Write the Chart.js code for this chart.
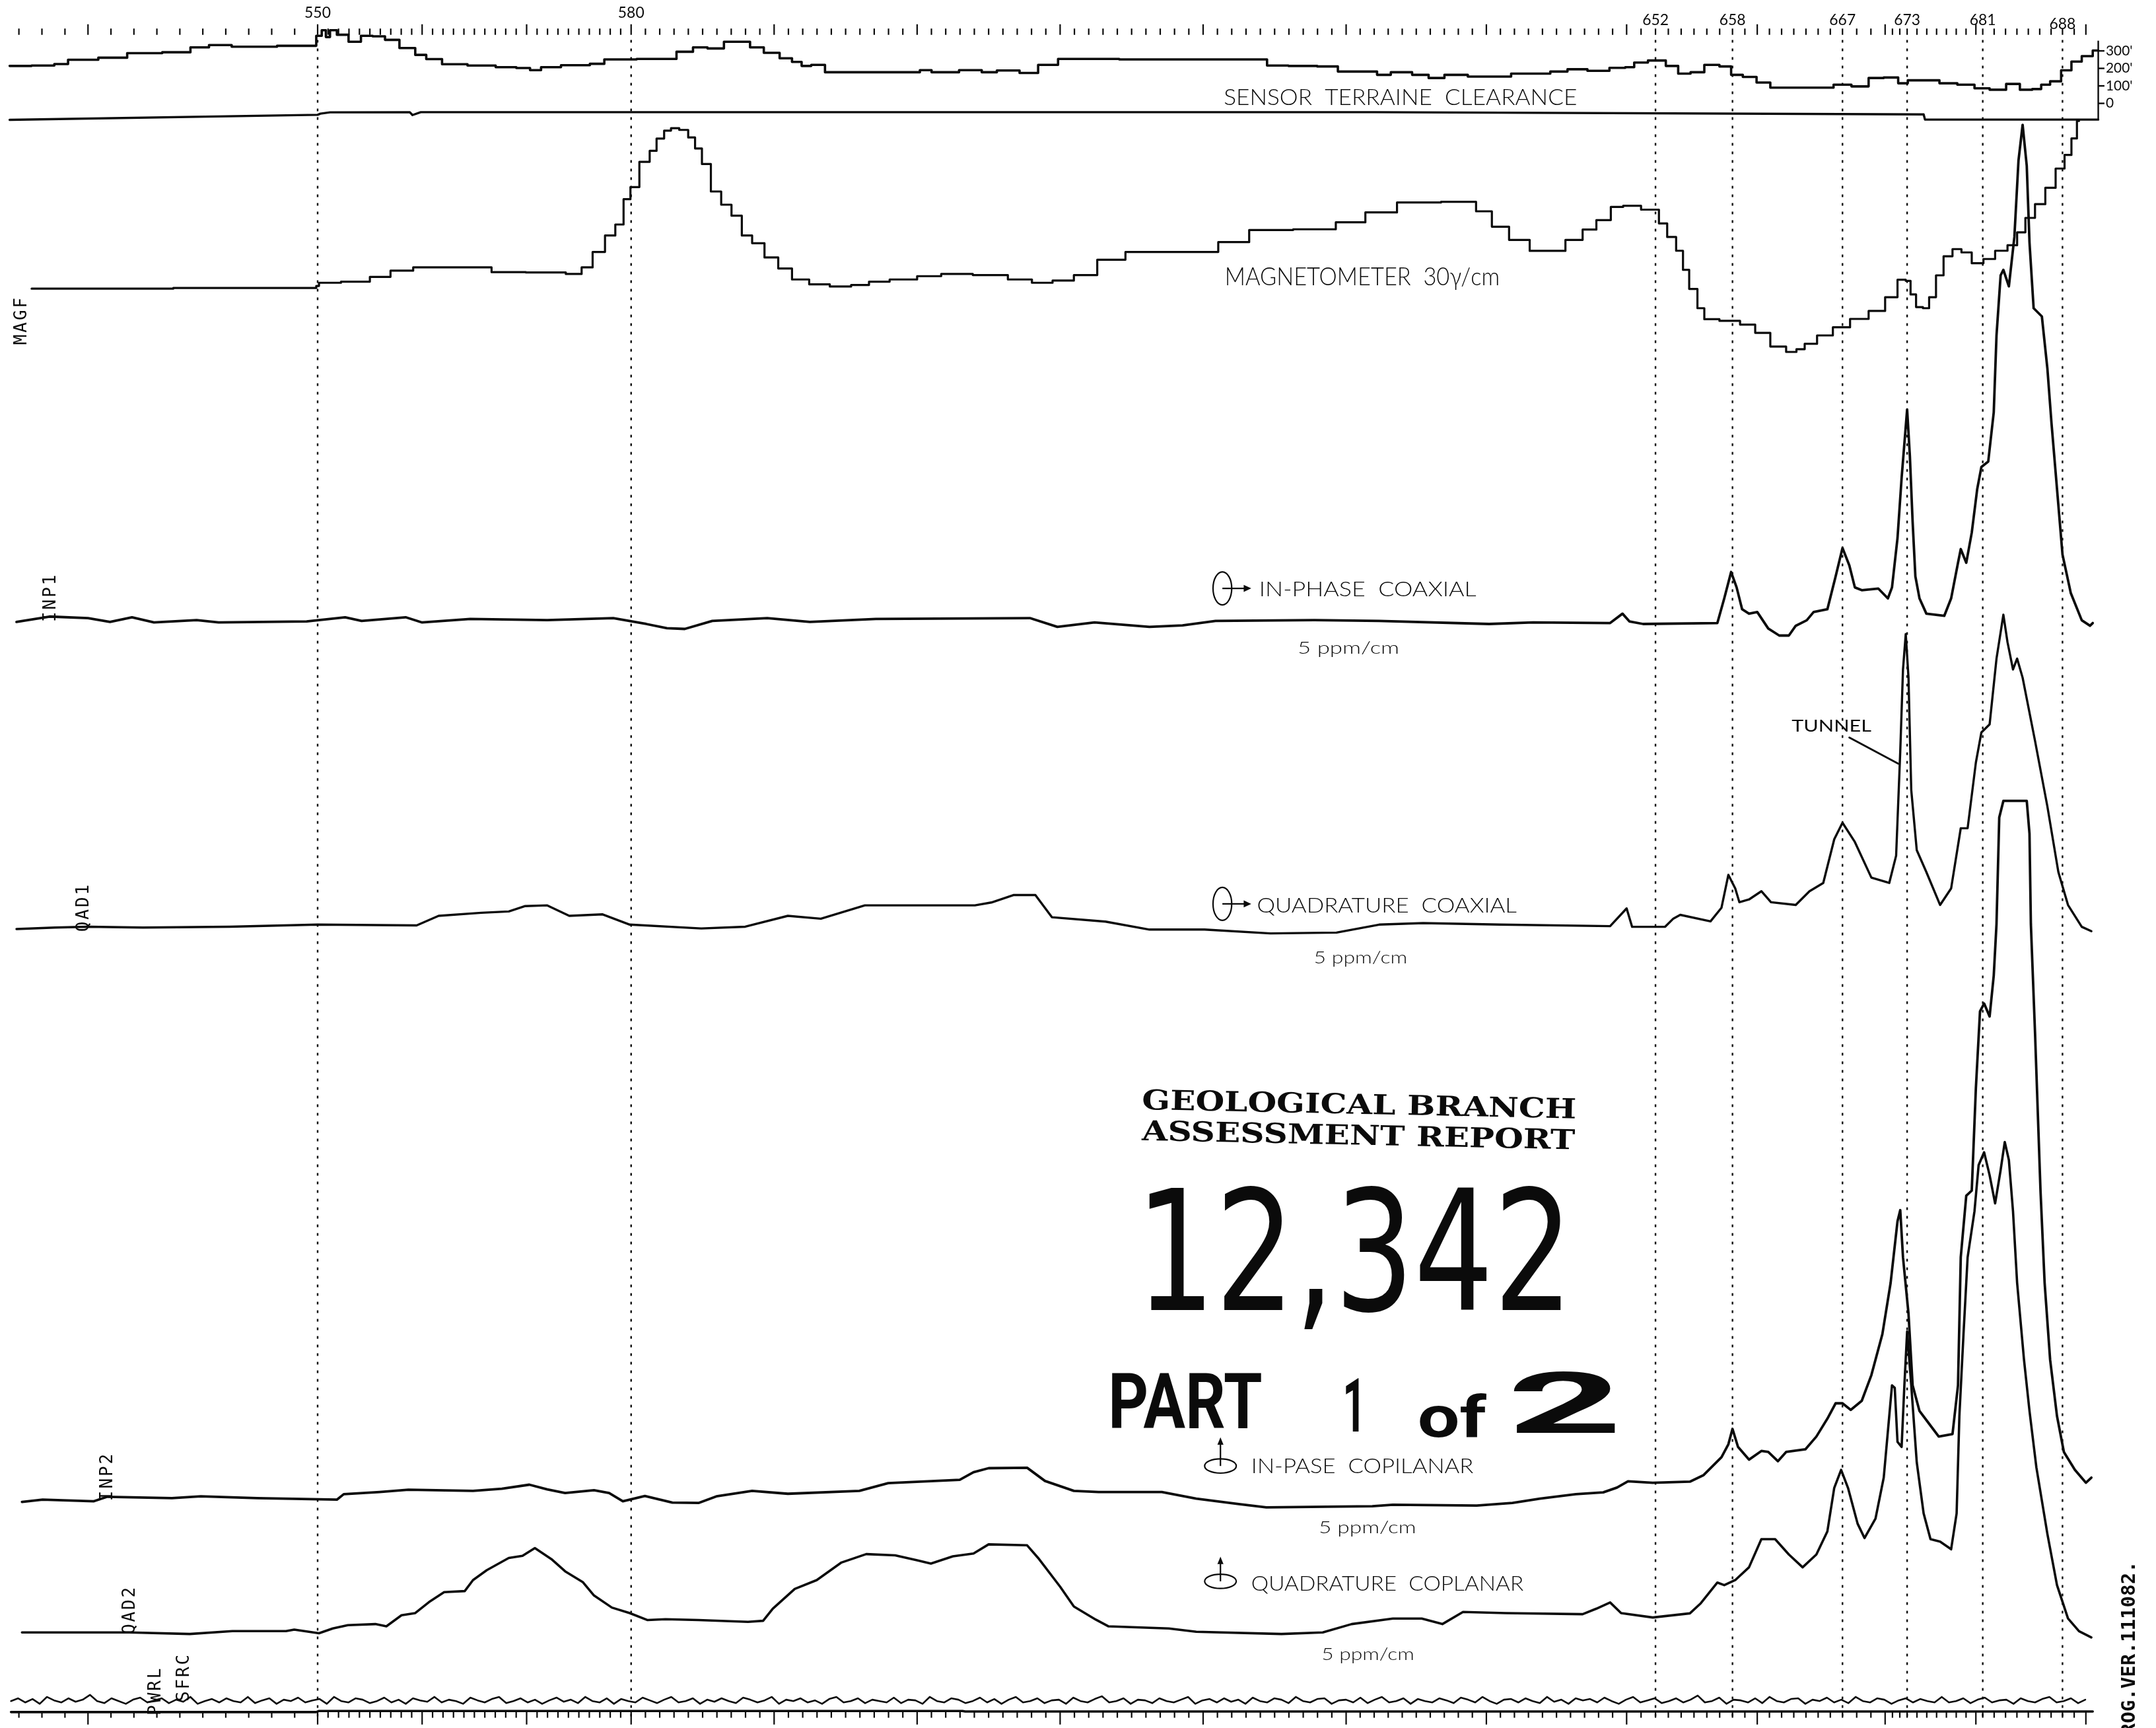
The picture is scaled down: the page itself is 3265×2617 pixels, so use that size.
<!DOCTYPE html>
<html>
<head>
<meta charset="utf-8">
<title>Airborne EM / Magnetometer profile</title>
<script src="https://cdn.jsdelivr.net/npm/chart.js@4.4.1/dist/chart.umd.min.js"></script>
<style>
    html, body { margin: 0; padding: 0; background: #fff; }
    canvas { display: block; }
</style>
</head>
<body>
<canvas id="profile" width="3265" height="2617"></canvas>
<script>
'use strict';

// =========================================================
// PROFILE DATA
// Distances are along the flight line in chart units
// (0 = left edge of the sheet, 1568 = right edge).
// Trace values are deflections above the trace baseline,
// except terrain clearance which is in feet.
// =========================================================

// ---- fiducial axis ----
const fiducialAnchors = [536, 540, 550, 580, 590, 630, 650, 652, 658, 660, 667, 670, 673, 680, 681, 688, 690];
const fiducialAnchorDist = [-3, 64, 231, 459, 563, 979, 1183, 1204, 1260, 1278, 1340, 1371, 1387, 1437, 1442, 1500, 1517];
const labelledFiducials = [550, 580, 652, 658, 667, 673, 681, 688];

// ---- sensor terrain clearance (feet) ----
const clearanceTicks = [0, 100, 200, 300];
const clearanceDist = [7, 39, 40, 59, 84, 101, 135, 142, 162, 175, 228, 232, 236, 238, 242, 248, 259, 266, 276, 284, 297, 307, 313, 330, 350, 371, 380, 391, 396, 420, 438, 441, 485, 499, 509, 520, 533, 542, 549, 562, 572, 580, 586, 594, 606, 666, 672, 683, 712, 716, 734, 749, 761, 778, 850, 919, 924, 950, 966, 980, 1000, 1003, 1020, 1034, 1044, 1057, 1078, 1120, 1135, 1145, 1164, 1177, 1187, 1190, 1207, 1216, 1225, 1234, 1245, 1256, 1262, 1273, 1282, 1293, 1327, 1340, 1353, 1365, 1375, 1386, 1389, 1406, 1415, 1432, 1440, 1454, 1464, 1474, 1482, 1487, 1495, 1503, 1510, 1518, 1526];
const clearanceFeet = [214, 216, 225, 249, 261, 287, 292, 320, 333, 324, 329, 386, 418, 379, 418, 392, 352, 386, 383, 363, 316, 277, 253, 224, 216, 207, 202, 190, 207, 218, 226, 251, 254, 295, 320, 314, 352, 352, 320, 289, 258, 237, 214, 220, 178, 178, 190, 178, 190, 178, 188, 174, 220, 254, 251, 251, 216, 214, 211, 182, 182, 163, 178, 163, 145, 163, 153, 170, 182, 195, 186, 203, 207, 233, 245, 214, 170, 178, 220, 211, 163, 151, 119, 90, 90, 107, 97, 145, 148, 115, 132, 132, 115, 107, 86, 78, 111, 78, 82, 107, 126, 189, 239, 270, 302];

// ---- reference line under the clearance trace ----
const refDist = [7, 231, 233, 240, 298, 300, 306, 1000, 1399, 1400, 1526];
const refValues = [0, 3.7, 4.5, 5.5, 5.6, 3.5, 5.6, 5.6, 4, 0.2, 0.2];

// ---- magnetometer (MAGF) ----
const magDist = [23, 229, 231, 233, 263, 275, 293, 308, 354, 361, 404, 419, 427, 435, 445, 450, 457, 460, 470, 475, 480, 486, 490, 498, 503, 508, 513, 521, 528, 536, 543, 551, 561, 571, 581, 596, 611, 627, 637, 657, 677, 692, 723, 743, 758, 773, 789, 807, 830, 876, 896, 921, 960, 983, 1003, 1029, 1067, 1080, 1090, 1105, 1120, 1131, 1146, 1156, 1166, 1177, 1184, 1203, 1210, 1215, 1223, 1225, 1232, 1237, 1242, 1259, 1272, 1281, 1294, 1304, 1309, 1316, 1327, 1339, 1352, 1366, 1376, 1384, 1388, 1391, 1396, 1401, 1405, 1411, 1416, 1424, 1429, 1439, 1446, 1456, 1464, 1470, 1476, 1484, 1491, 1499, 1504, 1509, 1512];
const magValues = [2, 2.5, 4, 6.3, 7.1, 10.6, 15.1, 17.5, 17.5, 14, 13.8, 12.7, 17.5, 28.7, 40.7, 48.7, 67.1, 75.9, 94.3, 102.3, 111.2, 117, 118.8, 117.5, 112, 104, 92.7, 72.7, 63.1, 55.1, 40.7, 35.1, 24.7, 16.7, 8.7, 5.2, 3.6, 4.7, 7.1, 8.7, 11.1, 12.7, 11.9, 8.7, 6.3, 7.9, 11.9, 23.1, 28.7, 28.7, 35.9, 44.7, 45.2, 50.3, 57.5, 64.7, 65.2, 58.3, 47.1, 37.5, 29.5, 29.5, 37.5, 45, 51.9, 61.5, 62.3, 59.5, 49.5, 39.6, 29.6, 15.7, 1.8, -12.2, -20.2, -21.4, -24.1, -30.1, -40.1, -44, -42, -38.1, -32, -26.1, -20, -14.2, -4.2, 8.5, 7.7, -2.2, -11.4, -12.2, -4.2, 11.7, 25.6, 30.8, 28.4, 20.5, 23.6, 29.6, 33.6, 43, 53.5, 63.5, 75.4, 89.4, 99.3, 111.3, 124];

// ---- in-phase coaxial (INP1) ----
const inp1Dist = [12, 36, 64, 80, 96, 112, 143, 159, 223, 251, 263, 295, 307, 342, 398, 446, 470, 485, 498, 518, 558, 589, 637, 749, 769, 796, 836, 860, 884, 956, 1003, 1083, 1115, 1171, 1180, 1185, 1195, 1249, 1254, 1259, 1263, 1267, 1272, 1278, 1286, 1294, 1301, 1306, 1314, 1319, 1329, 1335, 1340, 1345, 1349, 1354, 1366, 1373, 1376, 1380, 1383, 1387, 1389, 1391, 1393, 1396, 1401, 1414, 1419, 1424, 1426, 1430, 1434, 1438, 1441, 1446, 1450, 1452, 1455, 1457, 1461, 1465, 1468, 1471, 1474, 1476, 1479, 1485, 1489, 1492, 1496, 1500, 1506, 1514, 1520, 1522];
const inp1Values = [-0.4, 3.5, 2.4, -0.4, 3, -0.8, 0.9, -0.8, 0, 3, 0.3, 3, -0.8, 1.8, 0.9, 2.4, -1.9, -5, -5.5, 0.3, 2.4, -0.4, 1.8, 2.4, -4, -0.8, -4, -2.9, 0.3, 0.9, 0.3, -1.9, -0.8, -1.2, 5.6, 0, -1.9, -1.2, 16.7, 35.9, 24.7, 8.8, 5.6, 6.8, -5.2, -10.3, -10.3, -3.2, 0.8, 6.8, 8.8, 32.7, 53.4, 40.6, 24.7, 22.7, 23.9, 16.7, 24.7, 60.5, 104.4, 154.1, 120.3, 72.5, 32.7, 16.7, 5.6, 4, 16.7, 42.6, 52.6, 42.6, 64.5, 96.4, 112.3, 116.3, 152.1, 207.9, 251.7, 255.7, 243.7, 279.6, 335.3, 361.2, 331.4, 275.6, 227.8, 221.8, 184, 144.2, 96.4, 48.6, 20.7, 0.8, -3.2, -1.2];

// ---- quadrature coaxial (QAD1) ----
const qad1Dist = [12, 40, 64, 104, 167, 231, 303, 319, 350, 370, 382, 398, 414, 438, 458, 510, 542, 573, 597, 629, 709, 721, 737, 753, 765, 804, 836, 876, 924, 972, 1003, 1035, 1091, 1171, 1183, 1187, 1211, 1217, 1222, 1244, 1252, 1257, 1262, 1265, 1272, 1281, 1288, 1306, 1316, 1326, 1334, 1340, 1349, 1361, 1374, 1379, 1382, 1384, 1386, 1388, 1390, 1394, 1401, 1411, 1419, 1426, 1431, 1437, 1441, 1447, 1452, 1457, 1460, 1464, 1467, 1471, 1480, 1489, 1497, 1504, 1514, 1521];
const qad1Values = [-0.8, 0.3, 0.9, 0.3, 0.9, 2.4, 1.8, 8.8, 11, 12, 15.9, 16.4, 8.8, 9.9, 2.4, -0.4, 0.9, 8.8, 6.7, 16.4, 16.4, 18.5, 23.9, 23.9, 7.8, 4.6, -1.2, -1.2, -4, -3.4, 2.4, 3.5, 2.4, 1.3, 14.2, 0.8, 0.9, 6.8, 9.5, 4.8, 14.7, 38.6, 28.7, 18.7, 20.7, 26.7, 18.7, 16.7, 26.7, 32.7, 64.5, 76.5, 62.5, 36.6, 32.7, 52.6, 128.2, 188, 213.8, 182, 100.4, 56.6, 40.6, 16.7, 28.7, 72.5, 72.5, 120.3, 142.2, 148.1, 195.9, 227.8, 207.9, 188, 195.9, 182, 136.2, 88.4, 40.6, 16.7, 0.8, -2.4];

// ---- in-phase coplanar (INP2), clipped at the top of its channel ----
const inp2Dist = [16, 31, 68, 78, 125, 146, 187, 245, 250, 276, 297, 344, 365, 385, 398, 411, 432, 443, 453, 469, 489, 508, 521, 547, 573, 625, 646, 698, 708, 719, 747, 760, 781, 799, 845, 870, 901, 921, 998, 1013, 1074, 1100, 1120, 1146, 1166, 1176, 1184, 1202, 1229, 1239, 1252, 1257, 1260, 1264, 1272, 1281, 1286, 1293, 1299, 1313, 1321, 1329, 1335, 1340, 1346, 1354, 1361, 1369, 1375, 1380, 1382, 1384, 1388, 1391, 1396, 1403, 1410, 1420, 1424, 1426, 1430, 1434, 1437, 1440, 1443, 1447, 1450, 1452, 1454, 1457, 1474, 1476, 1477, 1480, 1484, 1487, 1491, 1496, 1501, 1509, 1517, 1521];
const inp2Values = [-1.5, 0.1, -1.1, 2.2, 1.2, 2.5, 1.2, 0.1, 4.1, 5.7, 7.3, 6.5, 8.1, 11, 7.6, 4.9, 7, 4.9, -1.1, 2.8, -2, -2.3, 2.5, 6.5, 4.4, 6.5, 12.1, 14.5, 20.1, 23, 23.3, 13.7, 6.5, 5.7, 5.7, 0.9, -3.1, -5.5, -4.7, -3.6, -4.2, -2.3, 0.9, 4.1, 5.4, 8.9, 13.5, 12.4, 13.2, 18, 31, 40.4, 51.6, 38.5, 29.2, 35.5, 34.8, 28.1, 34.8, 36.7, 46, 59, 70.2, 70.2, 65.4, 72, 90.7, 120.5, 157.8, 202.5, 210.7, 176.4, 135.4, 83.3, 64.6, 55.3, 46, 47.8, 83.3, 176.4, 221.2, 224.9, 299.4, 355.3, 361, 351.6, 381.4, 418.7, 496.4, 508.4, 508.4, 484.5, 418.7, 340.4, 224.9, 157.8, 101.9, 60.9, 34.8, 21.8, 12.4, 16.1];

// ---- quadrature coplanar (QAD2) ----
const qad2Dist = [16, 94, 138, 169, 208, 214, 232, 242, 253, 273, 281, 292, 302, 312, 323, 338, 344, 354, 370, 380, 389, 401, 411, 424, 432, 445, 458, 471, 484, 508, 544, 555, 562, 578, 594, 612, 630, 651, 667, 677, 693, 708, 719, 747, 755, 771, 781, 797, 806, 850, 870, 932, 962, 983, 1013, 1034, 1049, 1064, 1095, 1151, 1161, 1171, 1179, 1202, 1229, 1237, 1249, 1254, 1262, 1272, 1281, 1291, 1301, 1311, 1321, 1329, 1334, 1339, 1344, 1351, 1356, 1364, 1370, 1376, 1378, 1380, 1383, 1385, 1387, 1390, 1394, 1399, 1404, 1411, 1419, 1423, 1425, 1428, 1431, 1436, 1439, 1443, 1447, 1451, 1455, 1458, 1461, 1464, 1467, 1472, 1476, 1481, 1489, 1496, 1504, 1512, 1521];
const qad2Values = [0.5, 0.5, -0.6, 1.5, 1.5, 2.6, -0.1, 3.4, 5.8, 6.6, 5, 13, 14.6, 22.6, 29.8, 30.6, 38.6, 45.8, 54.7, 56.2, 61.9, 53.9, 45, 37, 27.4, 18.6, 14.6, 9.5, 10.1, 9.5, 8.2, 9, 17.8, 32.2, 38.6, 51.4, 57.5, 56.6, 53, 50.6, 55.9, 57.9, 64.6, 63.9, 54.7, 33.8, 19.4, 9.8, 5, 3.4, 1, -0.6, 0.5, 6.6, 10.6, 10.6, 6.6, 15.4, 14.6, 13.8, 17.8, 22.3, 14.6, 11.4, 14.4, 21.8, 36.8, 34.9, 38.6, 47.9, 68.4, 68.4, 57.2, 47.9, 57.2, 74, 105.7, 118.7, 105.7, 79.6, 69.2, 83.3, 113.2, 180.3, 178.4, 139.2, 135.5, 180.3, 219.4, 180.3, 124.3, 87.1, 68.4, 66.6, 61, 87.1, 157.9, 217.5, 273.4, 307, 340.5, 349.8, 333.1, 312.6, 336.8, 357.3, 344.2, 307, 254.8, 198.9, 161.6, 120.6, 72.2, 34.9, 10.7, 1.4, -3.1];

// ---- power line monitor (PWRL), read as a ragged noise band ----
const pwrlValues = [
    0, 2, -1, 1.5, -2, 3, 0.5, -1, 2, -0.5,
    1, 4.5, 0, -1.5, 2, 0, -2, 1, 2.5, -1,
    0.5, 2, -1.5, 1, -0.5, 3, -2, 0, 1.5, -1,
    2, 0, -1, 3, -1.5, 0.5, 2, -2, 1, 0,
    2.5, -1, 0.5, 1.5, -2, 3, 0, -1, 2, 1,
    -1.5, 0, 2.5, -1, 1, -2, 2, 0.5, -0.5, 3,
    -1, 1, 0, -2, 2.5, 0.5, -1, 1.5, 3, -1.5,
    0, 2, -1, 1, -2, 0.5, 2.5, -0.5, 1, -1.5,
    3, 0, -1, 2, -2, 1.5, 0, -1, 2.5, 0.5,
    -1.5, 1, 3, -1, 0, 2, -2, 1, -0.5, 2,
    0, -1.5, 2.5, 1, -1, 0.5, 3, -2, 1, 0,
    2, -1, 0.5, -2, 1.5, 3, -1, 0, 2, -1.5,
    1, 0, -1, 2.5, -1.5, 1, 0.5, -2, 3, 0,
    -1, 2, 1, -1.5, 0, 2.5, -1, 1.5, -2, 1,
    3, -1, 0, 2, -1.5, 0.5, 1, -2, 2.5, 0,
    -1, 1.5, 3.5, -1, 0, 2, -2, 1, 0.5, -1.5,
    2, 0, -1, 1, 3, -2, 0.5, 1.5, -1, 2,
    -0.5, 1, -2, 2.5, 0, -1, 2, 1, -1.5, 3,
    0, -1, 1.5, 2, -2, 0.5, 1, -1, 2.5, -1.5,
    1, 3, -1, 0, 2, -2, 1.5, 0, -1, 2,
    0.5, -1.5, 2.5, 1, -1, 3, 0, -2, 1, 1.5,
    -1, 2, 0, -1.5, 3, -0.5, 1, -2, 2, 0.5,
    1.5, -1, 2.5, 0, -2, 1, 3, -1, 0.5, 2,
    -1.5, 0, 2, -1, 1, 4, -1, 0, 2.5, -2,
    1, 0.5, -1, 2, -1.5, 3, 0, -1, 1.5, 2,
    -2, 1, 0, 2.5, -1, 1, -1.5, 3, 0, -1,
    2, 1, -2, 0.5, 2, -1, 1.5, 0, -1, 3,
    -1, 0, 2, -1.5, 1, 2.5, -1, 0.5, 1, -2,
    2, 0, -1, 1.5, 3, -1, 0, 2, -1.5, 1,
];

// ---- spherics monitor (SFRC) ----
const sfrcDist = [8, 230, 232, 700, 702, 1200, 1522];
const sfrcValues = [0, 0, 0.8, 0.8, 0.4, 0.4, 0.4];


// =========================================================
// LAYOUT (chart units, 1568 x 1257 across the sheet)
// =========================================================

const CHART_W = 1568;
const CHART_H = 1257;
const INK = '#0b0b0b';

const baselines = {
    ref: 87.2,
    mag: 212,
    inp1: 452,
    qad1: 675,
    inp2: 1091,
    qad2: 1188,
    pwrl: 1237.4,
    sfrc: 1245.4,
};

const pwrlStart = 8;
const pwrlSpacing = 5.22;

const CLEARANCE_ZERO = 75.2;          // chart units at 0 ft
const CLEARANCE_UNITS_PER_FT = 0.1273;
const CLEARANCE_AXIS_X = 1526;

const grid = {
    dottedTop: 29,
    dottedBottom: 1250,
    topTickBottom: 25.3,
    topMinorTop: 20.8,
    topMajorTop: 17.6,
    bottomLine: 1245.4,
    bottomMinor: 1249.6,
    bottomMajor: 1254.5,
};

const fiducialLabelY = [9.5, 9.5, 14.5, 14.5, 14.5, 14.5, 14.5, 17.5];

const captionFont = 'Lato, "DejaVu Sans", sans-serif';

const captions = [
    { text: 'SENSOR  TERRAINE  CLEARANCE', x: 1018.5, y: 70.5, size: 16.5, width: 257, weight: '300' },
    { text: 'MAGNETOMETER  30γ/cm', x: 990.7, y: 201, size: 17.5, width: 200, weight: '300' },
    { text: 'IN-PHASE  COAXIAL', x: 994.7, y: 428, size: 15.5, width: 158, weight: '300' },
    { text: '5 ppm/cm', x: 980.7, y: 471, size: 12.5, width: 74, weight: '300' },
    { text: 'QUADRATURE  COAXIAL', x: 1008.6, y: 658, size: 15.5, width: 189, weight: '300' },
    { text: '5 ppm/cm', x: 989.5, y: 696.5, size: 12.5, width: 68, weight: '300' },
    { text: 'IN-PASE  COPILANAR', x: 990.8, y: 1066, size: 15.5, width: 161.6, weight: '300' },
    { text: '5 ppm/cm', x: 994.5, y: 1111, size: 12.5, width: 71, weight: '300' },
    { text: 'QUADRATURE  COPLANAR', x: 1009, y: 1151.6, size: 15.5, width: 198, weight: '300' },
    { text: '5 ppm/cm', x: 994.8, y: 1203, size: 12.5, width: 67.5, weight: '300' },
    { text: 'TUNNEL', x: 1332, y: 528, size: 12, width: 58, weight: '400' },
];

const stampLines = [
    { text: 'GEOLOGICAL BRANCH', x: 988.5, y: 803, size: 20, width: 316 },
    { text: 'ASSESSMENT REPORT', x: 988, y: 825.5, size: 20, width: 315 },
];

const reportNumber = { text: '12,342', x: 985, y: 909, size: 122, width: 318, weight: '400' };

const handwriting = [
    { text: 'PART', x: 862, y: 1019, size: 56, width: 112, weight: 'bold' },
    { text: '1', x: 985, y: 1022, size: 54, width: 17, weight: 'bold' },
    { text: 'of', x: 1056, y: 1030, size: 42, width: 50, weight: 'bold' },
    { text: '2', x: 1138, y: 1020, size: 62, width: 84, weight: 'bold' },
];

const traceTags = [
    { text: 'MAGF', x: 14.5, y: 233 },
    { text: 'INP1', x: 35.8, y: 434.6 },
    { text: 'QAD1', x: 59.7, y: 660 },
    { text: 'INP2', x: 77, y: 1074 },
    { text: 'QAD2', x: 93.7, y: 1171 },
    { text: 'PWRL', x: 112, y: 1230 },
    { text: 'SFRC', x: 132.8, y: 1220 },
];

const coaxialSymbols = [{ x: 889, y: 428 }, { x: 889, y: 657.5 }];
const coplanarSymbols = [{ x: 887.6, y: 1066.4, top: 1045.5 }, { x: 887.6, y: 1150.3, top: 1132.3 }];
const tunnelLeader = { from: { x: 1345, y: 536.5 }, to: { x: 1380.5, y: 555.5 } };


// =========================================================
// HELPERS
// =========================================================

const fiducialToDist = (fid) => {
    for (let i = 1; i < fiducialAnchors.length; i++) {
        if (fid <= fiducialAnchors[i]) {
            const f0 = fiducialAnchors[i - 1];
            const f1 = fiducialAnchors[i];
            const d0 = fiducialAnchorDist[i - 1];
            const d1 = fiducialAnchorDist[i];
            return d0 + ((fid - f0) / (f1 - f0)) * (d1 - d0);
        }
    }
    return fiducialAnchorDist[fiducialAnchorDist.length - 1];
};

const toPoints = (dist, values, base) => dist.map((d, i) => ({ x: d, y: base - values[i] }));

const unitPx = (chart) => {
    const xScale = chart.scales.x;
    return (xScale.getPixelForValue(CHART_W) - xScale.getPixelForValue(0)) / CHART_W;
};

// draws text centred on (x, y) in chart units, stretched to a width if given
const drawText = (chart, item, family) => {
    const { ctx, scales: { x, y } } = chart;
    const k = unitPx(chart);

    ctx.save();
    ctx.font = `${item.weight || 'normal'} ${item.size * k}px ${family}`;
    ctx.textAlign = 'center';
    ctx.textBaseline = 'alphabetic';
    ctx.translate(x.getPixelForValue(item.x), y.getPixelForValue(item.y));

    if (item.angle) ctx.rotate((item.angle * Math.PI) / 180);

    if (item.width) {
        const measured = ctx.measureText(item.text).width;
        ctx.scale((item.width * k) / measured, 1);
    }

    ctx.fillText(item.text, 0, item.size * k * 0.36);
    ctx.restore();
};


// =========================================================
// PLUGINS
// =========================================================

const fiducialPlugin = {
    id: 'fiducialGrid',
    beforeDatasetsDraw(chart) {
        const { ctx, scales: { x, y, yClr } } = chart;
        const k = unitPx(chart);
        const px = (d) => x.getPixelForValue(d);
        const py = (v) => y.getPixelForValue(v);

        ctx.save();
        ctx.strokeStyle = INK;
        ctx.fillStyle = INK;

        // dotted lines at the labelled fiducials
        ctx.lineWidth = 2.4;
        ctx.setLineDash([4, 9]);
        labelledFiducials.forEach((fid) => {
            const xp = px(fiducialToDist(fid));
            ctx.beginPath();
            ctx.moveTo(xp, py(grid.dottedTop));
            ctx.lineTo(xp, py(grid.dottedBottom));
            ctx.stroke();
        });
        ctx.setLineDash([]);

        // fiducial ticks, top and bottom
        ctx.lineWidth = 2.2;
        const firstFid = fiducialAnchors[0] + 1;
        const lastFid = fiducialAnchors[fiducialAnchors.length - 1];

        for (let fid = firstFid; fid <= lastFid; fid++) {
            const xp = px(fiducialToDist(fid));
            const major = fid % 10 === 0;

            ctx.beginPath();
            ctx.moveTo(xp, py(major ? grid.topMajorTop : grid.topMinorTop));
            ctx.lineTo(xp, py(grid.topTickBottom));
            ctx.moveTo(xp, py(grid.bottomLine));
            ctx.lineTo(xp, py(major ? grid.bottomMajor : grid.bottomMinor));
            ctx.stroke();
        }

        // fiducial numbers
        ctx.font = `400 ${11 * k}px ${captionFont}`;
        ctx.textAlign = 'center';
        ctx.textBaseline = 'middle';
        labelledFiducials.forEach((fid, i) => {
            ctx.fillText(String(fid), px(fiducialToDist(fid)), py(fiducialLabelY[i]));
        });

        // terrain clearance scale on the right
        const axisX = px(CLEARANCE_AXIS_X);
        ctx.lineWidth = 2.4;
        ctx.beginPath();
        ctx.moveTo(axisX, py(29.6));
        ctx.lineTo(axisX, py(baselines.ref));
        ctx.stroke();

        ctx.font = `400 ${10 * k}px ${captionFont}`;
        ctx.textAlign = 'left';
        clearanceTicks.forEach((ft) => {
            const yp = yClr.getPixelForValue(ft);
            ctx.beginPath();
            ctx.moveTo(axisX, yp);
            ctx.lineTo(axisX + 4.5 * k, yp);
            ctx.stroke();
            ctx.fillText(ft === 0 ? '0' : `${ft}'`, axisX + 5.5 * k, yp);
        });

        ctx.restore();
    },
};

const annotationPlugin = {
    id: 'sheetAnnotations',
    afterDatasetsDraw(chart) {
        const { ctx, scales: { x, y } } = chart;
        const k = unitPx(chart);
        const px = (d) => x.getPixelForValue(d);
        const py = (v) => y.getPixelForValue(v);

        ctx.save();
        ctx.fillStyle = INK;
        ctx.strokeStyle = INK;

        captions.forEach((item) => drawText(chart, item, captionFont));

        // coaxial symbols: upright loop with arrow pointing along the line
        ctx.lineWidth = 2.2;
        coaxialSymbols.forEach((s) => {
            const cx = px(s.x);
            const cy = py(s.y);
            ctx.beginPath();
            ctx.ellipse(cx, cy, 6.8 * k, 12 * k, 0, 0, Math.PI * 2);
            ctx.stroke();
            ctx.beginPath();
            ctx.moveTo(cx, cy);
            ctx.lineTo(cx + 17 * k, cy);
            ctx.stroke();
            ctx.beginPath();
            ctx.moveTo(cx + 21 * k, cy);
            ctx.lineTo(cx + 15.5 * k, cy - 2.6 * k);
            ctx.lineTo(cx + 15.5 * k, cy + 2.6 * k);
            ctx.closePath();
            ctx.fill();
        });

        // coplanar symbols: flat loop with arrow pointing up
        coplanarSymbols.forEach((s) => {
            const cx = px(s.x);
            const cy = py(s.y);
            const top = py(s.top);
            ctx.beginPath();
            ctx.ellipse(cx, cy, 11.5 * k, 5.2 * k, 0, 0, Math.PI * 2);
            ctx.stroke();
            ctx.beginPath();
            ctx.moveTo(cx, cy);
            ctx.lineTo(cx, top + 4 * k);
            ctx.stroke();
            ctx.beginPath();
            ctx.moveTo(cx, top);
            ctx.lineTo(cx - 2.2 * k, top + 5.5 * k);
            ctx.lineTo(cx + 2.2 * k, top + 5.5 * k);
            ctx.closePath();
            ctx.fill();
        });

        // tunnel leader
        ctx.lineWidth = 3;
        ctx.lineCap = 'round';
        ctx.beginPath();
        ctx.moveTo(px(tunnelLeader.from.x), py(tunnelLeader.from.y));
        ctx.lineTo(px(tunnelLeader.to.x), py(tunnelLeader.to.y));
        ctx.stroke();

        // assessment stamp
        stampLines.forEach((item) => drawText(chart, { ...item, weight: 'bold', angle: 1.2 }, '"DejaVu Serif", serif'));

        // report number and part, marker written
        drawText(chart, reportNumber, '"DejaVu Sans", sans-serif');
        handwriting.forEach((item) => drawText(chart, item, 'Roboto, "DejaVu Sans", sans-serif'));

        // channel tags on the left, written up the page
        ctx.font = `400 ${12.5 * k}px "DejaVu Sans Mono", monospace`;
        ctx.textAlign = 'center';
        ctx.textBaseline = 'alphabetic';
        ctx.letterSpacing = `${1.4 * k}px`;
        traceTags.forEach((tag) => {
            ctx.save();
            ctx.translate(px(tag.x), py(tag.y));
            ctx.rotate(-Math.PI / 2);
            ctx.fillText(tag.text, 0, 12.5 * k * 0.36);
            ctx.restore();
        });

        // program version, written up the right edge
        ctx.font = `bold ${14 * k}px "DejaVu Sans Mono", monospace`;
        ctx.textAlign = 'left';
        ctx.letterSpacing = '0px';
        ctx.save();
        ctx.translate(px(1547.5), py(1262));
        ctx.rotate(-Math.PI / 2);
        ctx.fillText('ROG.VER.111082.', 0, 14 * k * 0.36);
        ctx.restore();

        ctx.restore();
    },
};


// =========================================================
// CHART
// =========================================================

const traceStyle = (points, width, extra = {}) => ({
    data: points,
    borderColor: INK,
    borderWidth: width,
    pointRadius: 0,
    fill: false,
    tension: 0,
    borderJoinStyle: 'round',
    borderCapStyle: 'round',
    ...extra,
});

const buildDatasets = () => {
    const pwrlPoints = pwrlValues.map((v, i) => ({ x: pwrlStart + i * pwrlSpacing, y: baselines.pwrl - v }));
    const clearancePoints = clearanceDist.map((d, i) => ({ x: d, y: clearanceFeet[i] }));

    return [
        // the recorder draws clearance and magnetometer as staircases
        traceStyle(clearancePoints, 3.6, { label: 'Sensor terrain clearance', yAxisID: 'yClr', stepped: 'middle' }),
        traceStyle(toPoints(refDist, refValues, baselines.ref), 3.4, { label: 'Reference' }),
        traceStyle(toPoints(magDist, magValues, baselines.mag), 3.2, { label: 'MAGF', stepped: 'middle' }),
        traceStyle(toPoints(inp1Dist, inp1Values, baselines.inp1), 3.8, { label: 'INP1' }),
        traceStyle(toPoints(qad1Dist, qad1Values, baselines.qad1), 3.4, { label: 'QAD1' }),
        traceStyle(toPoints(inp2Dist, inp2Values, baselines.inp2), 3.8, { label: 'INP2' }),
        traceStyle(toPoints(qad2Dist, qad2Values, baselines.qad2), 3.6, { label: 'QAD2' }),
        traceStyle(pwrlPoints, 2.6, { label: 'PWRL' }),
        traceStyle(toPoints(sfrcDist, sfrcValues, baselines.sfrc), 3.6, { label: 'SFRC' }),
    ];
};

const init = () => {
    const canvas = document.querySelector('#profile');

    new Chart(canvas, {
        type: 'line',
        data: { datasets: buildDatasets() },
        options: {
            responsive: false,
            devicePixelRatio: 1,
            animation: false,
            events: [],
            layout: { padding: 0 },
            plugins: {
                legend: { display: false },
                tooltip: { enabled: false },
            },
            scales: {
                x: { type: 'linear', min: 0, max: CHART_W, display: false },
                y: { type: 'linear', min: 0, max: CHART_H, reverse: true, display: false },
                yClr: {
                    type: 'linear',
                    min: -(CHART_H - CLEARANCE_ZERO) / CLEARANCE_UNITS_PER_FT,
                    max: CLEARANCE_ZERO / CLEARANCE_UNITS_PER_FT,
                    display: false,
                },
            },
        },
        plugins: [fiducialPlugin, annotationPlugin],
    });
};

document.addEventListener('DOMContentLoaded', init);
</script>
</body>
</html>
